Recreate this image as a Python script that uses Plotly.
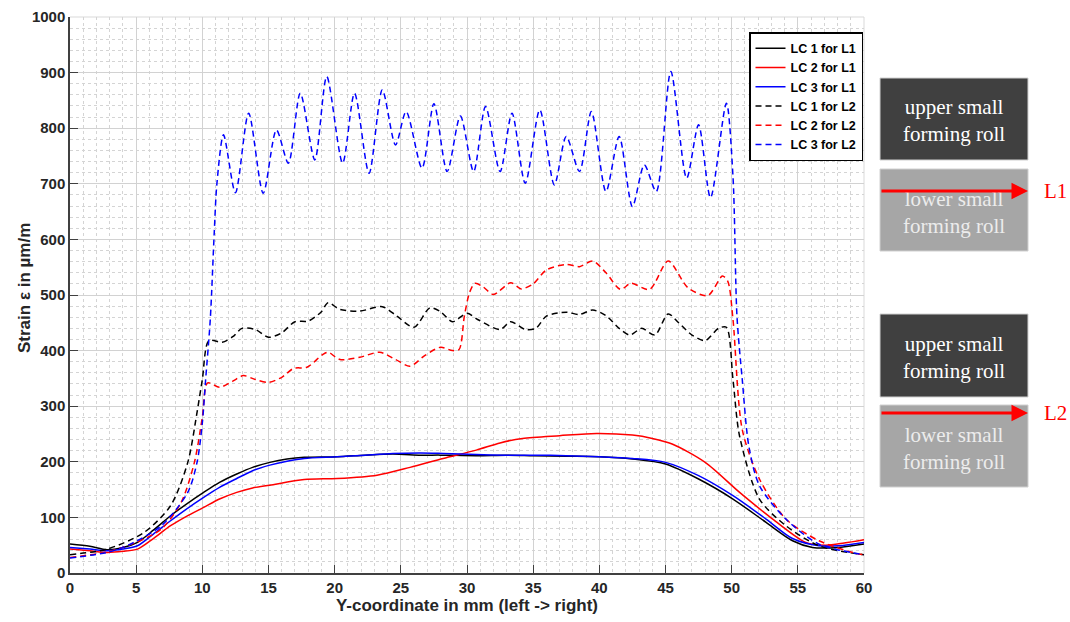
import plotly.graph_objects as go

# ---------------- data ----------------
x_lc1_l1 = [0, 1.5, 2.8, 4, 5.1, 6.3, 7.6, 8.8, 10.1, 11.3, 12.6, 13.8, 15.1, 16.4, 17.7, 20.2, 22.3, 24.4,
            26.5, 28, 30.7, 33, 35, 37.5, 40, 42.5, 45, 47.5, 50.1, 52.6, 54.6, 56.1, 58.1, 60]
y_lc1_l1 = [52, 48, 42, 46, 55, 77, 103, 124, 145, 163, 178, 190, 199, 205, 208, 209, 212, 214,
            212, 212, 211, 212, 211, 210, 209, 205, 196, 169, 133, 91, 58, 46, 46, 52]

x_lc2_l1 = [0, 1.5, 2.8, 4, 5.1, 6.3, 7.6, 8.8, 10.1, 11.3, 12.6, 13.8, 15.1, 17.7, 20.2, 23.2, 25.7,
            28.2, 30.7, 32.5, 34.2, 37, 39.8, 42.5, 44, 45.5, 48, 50.6, 53.1, 55.6, 57.1, 58.5, 60]
y_lc2_l1 = [43, 40, 37, 39, 43, 62, 85, 102, 118, 133, 145, 153, 158, 168, 170, 176, 190,
            206, 221, 234, 242, 247, 251, 248, 242, 232, 199, 145, 97, 55, 50, 54, 60]

x_lc3_l1 = [0, 1.5, 2.8, 4, 5.1, 6.3, 7.6, 8.8, 10.1, 11.3, 12.6, 13.8, 15.1, 16.4, 17.7, 20.2, 22.3, 24.4,
            26.5, 28.2, 30.7, 33, 35, 37.5, 40, 42.5, 45, 47.5, 50.1, 52.6, 54.6, 56.6, 58.1, 60]
y_lc3_l1 = [46, 43, 40, 43, 49, 70, 94, 115, 136, 154, 170, 184, 194, 201, 206, 209, 212, 215,
            216, 215, 213, 212, 212, 211, 209, 206, 199, 175, 139, 97, 62, 49, 49, 55]

x_lc1_l2 = [0, 2.8, 5.6, 7.6, 8.9, 9.6, 10.0, 10.5, 11.5, 12.3, 13.0, 14.0, 15.0, 16.0, 17.0, 18.0, 19.0,
            19.5, 20.4, 21.9, 23.6, 24.7, 26.0, 27.2, 28.0, 28.9, 30.0, 30.8, 32.5, 33.3, 34.4, 35.2,
            36.0, 37.5, 38.5, 39.5, 40.5, 41.5, 42.3, 43.2, 44.2, 45.2, 46.0, 47.0, 48.0, 49.0, 49.6,
            50.1, 50.6, 52.1, 54.1, 56.6, 59.6, 60]
y_lc1_l2 = [33, 43, 73, 121, 199, 289, 348, 418, 415, 425, 440, 438, 424, 432, 452, 453, 470,
            486, 474, 471, 479, 462, 442, 477, 470, 452, 467, 456, 438, 452, 438, 440,
            462, 469, 465, 473, 463, 440, 428, 440, 428, 466, 450, 428, 418, 440, 442,
            348, 246, 133, 85, 49, 34, 33]

x_lc2_l2 = [0, 2.8, 5.0, 6.9, 8.4, 9.4, 10.0, 10.4, 11.3, 12.3, 13.1, 14.0, 15.0, 16.0, 16.9, 17.9, 19.1,
            19.5, 20.4, 21.9, 23.4, 24.6, 25.7, 26.8, 28.0, 28.9, 29.4, 29.8, 30.2, 30.6, 31.2, 32.0,
            33.3, 34.1, 35.0, 36.0, 37.5, 38.5, 39.5, 40.5, 41.6, 42.4, 43.8, 45.2, 46.7, 48.2, 49.3,
            49.7, 50.1, 50.8, 52.1, 54.1, 56.6, 59.6, 60]
y_lc2_l2 = [28, 38, 55, 79, 127, 199, 280, 342, 334, 345, 355, 348, 343, 352, 368, 370, 393,
            397, 384, 388, 397, 384, 372, 391, 406, 400, 402, 462, 505, 521, 515, 501,
            522, 511, 520, 545, 555, 551, 561, 540, 510, 521, 510, 561, 513, 499, 534,
            525, 456, 258, 169, 97, 58, 34, 33]

x_lc3_l2 = [0, 2.8, 4.3, 6.9, 8.9, 9.6, 10.0, 10.25, 10.6, 10.9, 11.1, 11.6, 12.5, 13.5, 14.6, 15.6, 16.5,
            17.4, 18.5, 19.4, 20.6, 21.5, 22.6, 23.6, 24.6, 25.4, 26.6, 27.5, 28.5, 29.5, 30.5, 31.4,
            32.5, 33.4, 34.4, 35.5, 36.6, 37.5, 38.5, 39.4, 40.5, 41.5, 42.5, 43.4, 44.3, 45.4, 46.6,
            47.5, 48.4, 49.6, 50.1, 50.4, 50.8, 51.3, 52.1, 54.1, 56.6, 60]
y_lc3_l2 = [27, 37, 49, 85, 145, 199, 270, 348, 456, 612, 700, 788, 684, 827, 683, 797, 737,
            863, 743, 893, 737, 863, 719, 869, 770, 830, 728, 844, 722, 822, 722, 839,
            722, 827, 701, 833, 698, 785, 722, 830, 686, 785, 659, 734, 686, 902, 710,
            806, 675, 845, 713, 462, 348, 228, 157, 97, 52, 33]

series_names = ["LC 1 for L1", "LC 2 for L1", "LC 3 for L1", "LC 1 for L2", "LC 2 for L2", "LC 3 for L2"]
x_ticks = list(range(0, 61, 5))
y_ticks = list(range(0, 1001, 100))
x_title = "Y-coordinate in mm (left -> right)"
y_title = "Strain \u03b5 in \u00b5m/m"

# ---------------- figure ----------------
W, H = 1070, 622
L, R, T, B = 70, 206, 17, 49
PW, PH = W - L - R, H - T - B

def px(xp):
    return (xp - L) / PW

def py(yp):
    return (H - B - yp) / PH

fig = go.Figure()
colors = ["#000000", "#ff0000", "#0000ff"]
all_x = [x_lc1_l1, x_lc2_l1, x_lc3_l1, x_lc1_l2, x_lc2_l2, x_lc3_l2]
all_y = [y_lc1_l1, y_lc2_l1, y_lc3_l1, y_lc1_l2, y_lc2_l2, y_lc3_l2]
for i, (xs, ys, name) in enumerate(zip(all_x, all_y, series_names)):
    fig.add_trace(go.Scatter(
        x=xs, y=ys, name=name, mode="lines",
        line=dict(color=colors[i % 3], width=1.5, shape="spline", smoothing=0.8,
                  dash="solid" if i < 3 else "6px,4px"),
    ))

font_family = "Liberation Sans, Arial, sans-serif"
axis_common = dict(
    ticks="inside", ticklen=8, tickwidth=1.3, tickcolor="#404040",
    showline=True, linecolor="#404040", linewidth=1.5,
    showgrid=True, gridcolor="#d2d2d2", gridwidth=1, zeroline=False,
    automargin=False,
    tickfont=dict(family=font_family, size=15, color="#262626", weight="bold"),
)
fig.update_layout(
    width=W, height=H,
    margin=dict(l=L, r=R, t=T, b=B, pad=0, autoexpand=False),
    paper_bgcolor="white", plot_bgcolor="white",
    font=dict(family=font_family, color="#262626"),
    showlegend=True,
    legend=dict(
        x=px(749), y=py(32), xanchor="left", yanchor="top",
        bgcolor="white", bordercolor="#000000", borderwidth=1.5,
        font=dict(family=font_family, size=12.5, color="#000000", weight="bold"),
        tracegroupgap=0, itemwidth=30,
    ),
    xaxis=dict(
        range=[0, 60], tickvals=x_ticks,
        minor=dict(dtick=1, showgrid=True, gridcolor="#d4d4d4", griddash="dot", gridwidth=1),
        title=dict(text=x_title, font=dict(size=17, color="#262626", weight="bold"), standoff=4),
        **axis_common,
    ),
    yaxis=dict(
        range=[0, 1000], tickvals=y_ticks,
        minor=dict(dtick=20, showgrid=True, gridcolor="#d4d4d4", griddash="dot", gridwidth=1),
        **axis_common,
    ),
)

# y-axis title placed as in the reference
fig.add_annotation(xref="paper", yref="paper", x=px(24), y=py(288), text=y_title,
                   textangle=-90, showarrow=False, xanchor="center", yanchor="middle",
                   font=dict(family=font_family, size=17, color="#262626", weight="bold"))

# light box on top/right of plot area
fig.add_shape(type="line", xref="paper", yref="paper", x0=0, x1=1, y0=1, y1=1,
              line=dict(color="#d9d9d9", width=1), layer="below")
fig.add_shape(type="line", xref="paper", yref="paper", x0=1, x1=1, y0=0, y1=1,
              line=dict(color="#d9d9d9", width=1), layer="below")

# ---------------- roll diagrams on the right ----------------
serif = "Liberation Serif, Times New Roman, serif"
blocks = [
    # (top, bottom, fill, text, text colour)
    (78, 160, "#404040", "upper small<br>forming roll", "#ffffff"),
    (169, 251, "#a6a6a6", "lower small<br>forming roll", "#ececec"),
    (314, 397, "#404040", "upper small<br>forming roll", "#ffffff"),
    (405, 487, "#a6a6a6", "lower small<br>forming roll", "#ececec"),
]
for top, bot, fill, txt, tcol in blocks:
    fig.add_shape(type="rect", xref="paper", yref="paper",
                  x0=px(880), x1=px(1028), y0=py(bot), y1=py(top),
                  fillcolor=fill, line=dict(color="#d0d0d0", width=1))
    fig.add_annotation(xref="paper", yref="paper", x=px(954), y=py((top + bot) / 2 + 2),
                       text=txt, showarrow=False, xanchor="center", yanchor="middle",
                       font=dict(family=serif, size=21, color=tcol))

for yline, label in [(191, "L1"), (413, "L2")]:
    fig.add_annotation(xref="paper", yref="paper", axref="pixel", ayref="pixel",
                       x=px(1028), y=py(yline), ax=-148, ay=0,
                       text="", showarrow=True, arrowhead=2, arrowsize=1.1,
                       arrowwidth=3, arrowcolor="#ff0000")
    fig.add_annotation(xref="paper", yref="paper", x=px(1042), y=py(yline),
                       text=label, showarrow=False, xanchor="left", yanchor="middle",
                       font=dict(family=serif, size=21, color="#ff0000"))

fig.write_html("out.html", config={"displayModeBar": False},
               post_script="document.body.style.margin='0';document.body.style.overflow='hidden';")
